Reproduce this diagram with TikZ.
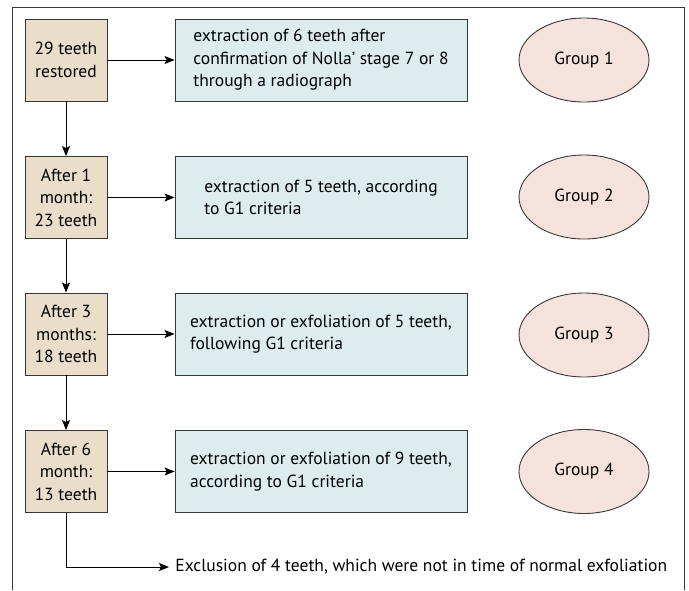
\documentclass[tikz,border=0pt]{standalone}
\usepackage{fontspec}
\setmainfont{PT Sans}
\usetikzlibrary{shapes, arrows.meta}

\definecolor{tan}{RGB}{234,221,201}
\definecolor{teal}{RGB}{221,237,237}
\definecolor{pink}{RGB}{246,226,221}
\definecolor{edge}{RGB}{55,55,55}

\begin{document}
\begin{tikzpicture}[x=1pt, y=-1pt, line width=0.9pt, font=\fontsize{17.5}{22.5}\selectfont,
    stage/.style={draw=edge, fill=tan, minimum width=82pt, minimum height=82pt, align=center, inner sep=0pt},
    step box/.style={draw=edge, fill=teal, minimum width=292pt, minimum height=82pt, align=left, inner sep=0pt},
    group/.style={draw=edge, fill=pink, ellipse, minimum width=130pt, minimum height=84pt, inner sep=0pt}]
    \useasboundingbox (0,0) rectangle (689,590);
    \draw[edge] (12,590) -- (12,7) -- (684,7) -- (684,590);

    \node[stage] (B1) at (66, 60) {29 teeth\\restored} ;
    \node[stage] (B2) at (66, 197.5) {After 1\\month:\\23 teeth} ;
    \node[stage] (B3) at (66, 334) {After 3\\months:\\18 teeth} ;
    \node[stage] (B4) at (66, 471.5) {After 6\\month:\\13 teeth} ;

    \node[step box] (T1) at (321, 60) {extraction of 6 teeth after\\confirmation of Nolla' stage 7 or 8\\through a radiograph} ;
    \node[step box] (T2) at (321, 197.5) {extraction of 5 teeth, according\\to G1 criteria} ;
    \node[step box] (T3) at (321, 334) {extraction or exfoliation of 5 teeth,\\following G1 criteria} ;
    \node[step box] (T4) at (321, 471.5) {extraction or exfoliation of 9 teeth,\\according to G1 criteria} ;

    \node[group] (G1) at (584, 60) {Group 1} ;
    \node[group] (G2) at (584, 197) {Group 2} ;
    \node[group] (G3) at (584, 335) {Group 3} ;
    \node[group] (G4) at (584, 471.5) {Group 4} ;

    \node[anchor=west, inner sep=0pt] (X) at (175, 567) {Exclusion of 4 teeth, which were not in time of normal exfoliation} ;

    \draw[->, >={Stealth[length=10pt, width=8pt, inset=2pt]}] (B1) -- (T1);
    \draw[->, >={Stealth[length=10pt, width=8pt, inset=2pt]}] (B2) -- (T2);
    \draw[->, >={Stealth[length=10pt, width=8pt, inset=2pt]}] (B3) -- (T3);
    \draw[->, >={Stealth[length=10pt, width=8pt, inset=2pt]}] (B4) -- (T4);
    \draw[->, >={Stealth[length=10pt, width=8pt, inset=2pt]}] (B1) -- (B2);
    \draw[->, >={Stealth[length=10pt, width=8pt, inset=2pt]}] (B2) -- (B3);
    \draw[->, >={Stealth[length=10pt, width=8pt, inset=2pt]}] (B3) -- (B4);
    \draw[->, >={Stealth[length=10pt, width=8pt, inset=2pt]}, shorten >= 6pt] (B4.south) |- (X.west);
  \end{tikzpicture}
\end{document}
